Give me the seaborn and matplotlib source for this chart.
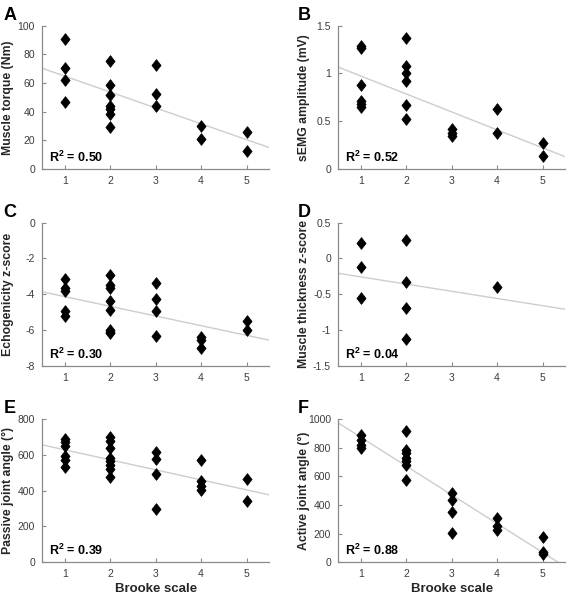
"""Six-panel scatter of muscle measures vs Brooke scale with linear fits."""

import matplotlib
import numpy as np
import pandas as pd
import seaborn as sns

matplotlib.use("Agg")
import matplotlib.pyplot as plt
from matplotlib.markers import MarkerStyle
from matplotlib.path import Path
from matplotlib.ticker import FuncFormatter

# --- data ---------------------------------------------------------------------
torque_grade = [1, 1, 1, 1, 2, 2, 2, 2, 2, 2, 2, 3, 3, 3, 4, 4, 5, 5]
torque_nm = [90.5, 70.5, 62, 46.5, 75.5, 58.5, 51.5, 44, 41.5, 38, 29.5, 72.5, 52, 44, 30, 21, 26, 12.8]

semg_grade = [1, 1, 1, 1, 1, 1, 2, 2, 2, 2, 2, 2, 3, 3, 3, 4, 4, 5, 5]
semg_mv = [1.29, 1.27, 0.88, 0.71, 0.68, 0.65, 1.37, 1.08, 1.0, 0.92, 0.665, 0.52,
           0.42, 0.38, 0.35, 0.63, 0.38, 0.27, 0.14]

echo_grade = [1, 1, 1, 1, 1, 2, 2, 2, 2, 2, 2, 2, 2, 3, 3, 3, 3, 4, 4, 4, 5, 5]
echo_z = [-3.13, -3.65, -3.84, -4.91, -5.24, -2.95, -3.5, -3.65, -4.4, -4.87, -5.99, -6.09, -6.18,
          -3.4, -4.29, -4.96, -6.31, -6.37, -6.55, -6.99, -5.49, -6.0]

thick_grade = [1, 1, 1, 2, 2, 2, 2, 4]
thick_z = [0.21, -0.12, -0.555, 0.255, -0.33, -0.695, -1.125, -0.405]

passive_grade = [1, 1, 1, 1, 1, 1, 2, 2, 2, 2, 2, 2, 2, 2, 3, 3, 3, 3, 4, 4, 4, 4, 5, 5]
passive_deg = [688, 670, 651, 595, 573, 530, 700, 675, 638, 582, 563, 545, 520, 476,
               616, 576, 492, 298, 573, 451, 427, 401, 464, 343]

active_grade = [1, 1, 1, 1, 2, 2, 2, 2, 2, 2, 2, 3, 3, 3, 3, 4, 4, 4, 5, 5, 5]
active_deg = [890, 855, 820, 800, 914, 781, 762, 727, 704, 680, 576,
              482, 436, 350, 207, 312, 256, 226, 179, 75, 58]

panel_letters = ["A", "B", "C", "D", "E", "F"]
y_labels = ["Muscle torque (Nm)", "sEMG amplitude (mV)", "Echogenicity z-score",
            "Muscle thickness z-score", "Passive joint angle (°)", "Active joint angle (°)"]
r2_labels = ["0.50", "0.52", "0.30", "0.04", "0.39", "0.88"]
x_ticks = [1, 2, 3, 4, 5]
y_ticks = [[0, 20, 40, 60, 80, 100], [0, 0.5, 1, 1.5], [-8, -6, -4, -2, 0],
           [-1.5, -1, -0.5, 0, 0.5], [0, 200, 400, 600, 800], [0, 200, 400, 600, 800, 1000]]

panels = [
    (torque_grade, torque_nm),
    (semg_grade, semg_mv),
    (echo_grade, echo_z),
    (thick_grade, thick_z),
    (passive_grade, passive_deg),
    (active_grade, active_deg),
]

# --- style ----------------------------------------------------------------------
sns.set_style("ticks")
plt.rcParams["font.family"] = ["Liberation Sans", "DejaVu Sans"]
plt.rcParams["mathtext.fontset"] = "custom"
plt.rcParams["mathtext.rm"] = "Liberation Sans"
plt.rcParams["mathtext.bf"] = "Liberation Sans:bold"

SPINE = "#8a8a8a"
TICKTEXT = "#3c3c3c"
TEXT = "#262626"
diamond = MarkerStyle(Path([(0, 1), (0.78, 0), (0, -1), (-0.78, 0), (0, 1)],
                           [Path.MOVETO, Path.LINETO, Path.LINETO, Path.LINETO, Path.CLOSEPOLY]))

fig = plt.figure(figsize=(5.67, 5.95), dpi=100)
lefts = [0.074, 0.596]
bottoms = [0.716, 0.385, 0.055]
width, height = 0.401, 0.241
fmt = FuncFormatter(lambda v, _: f"{v:g}")

for i, (grade, value) in enumerate(panels):
    row, col = divmod(i, 2)
    ax = fig.add_axes([lefts[col], bottoms[row], width, height])
    df = pd.DataFrame({"Brooke": grade, "Value": value})

    ax.set_xlim(0.5, 5.5)
    sns.regplot(data=df, x="Brooke", y="Value", ax=ax, scatter=False, ci=None,
                truncate=False, line_kws={"color": "#cdcdcd", "lw": 1.0})
    sns.scatterplot(data=df, x="Brooke", y="Value", ax=ax, marker=diamond, s=72,
                    color="black", edgecolor="black", linewidth=0.5, zorder=3)

    ax.set_xlim(0.5, 5.5)
    ax.set_ylim(min(y_ticks[i]), max(y_ticks[i]))
    ax.set_xticks(x_ticks)
    ax.set_yticks(y_ticks[i])
    ax.yaxis.set_major_formatter(fmt)
    ax.tick_params(direction="in", length=3, width=0.8, color=SPINE,
                   labelsize=7.5, labelcolor=TICKTEXT, pad=5)
    for side in ("left", "bottom"):
        ax.spines[side].set_color(SPINE)
        ax.spines[side].set_linewidth(0.9)
    sns.despine(ax=ax)

    ax.set_ylabel(y_labels[i], fontsize=8.8, fontweight="bold", color=TEXT)
    ax.yaxis.set_label_coords(-0.125, 0.5)
    if row == 2:
        ax.set_xlabel("Brooke scale", fontsize=9.5, fontweight="bold", color=TEXT, labelpad=3)
    else:
        ax.set_xlabel("")

    ax.text(0.03, 0.03, r"$\mathbf{R^{2}}$" + f" = {r2_labels[i]}", transform=ax.transAxes,
            fontsize=9, fontweight="bold", color="black", va="bottom", ha="left")
    ax.text(-0.17 if col == 0 else -0.175, 1.13, panel_letters[i], transform=ax.transAxes,
            fontsize=13, fontweight="bold", color="black", va="top", ha="left")

fig.savefig("out.png", dpi=100)
plt.close(fig)
